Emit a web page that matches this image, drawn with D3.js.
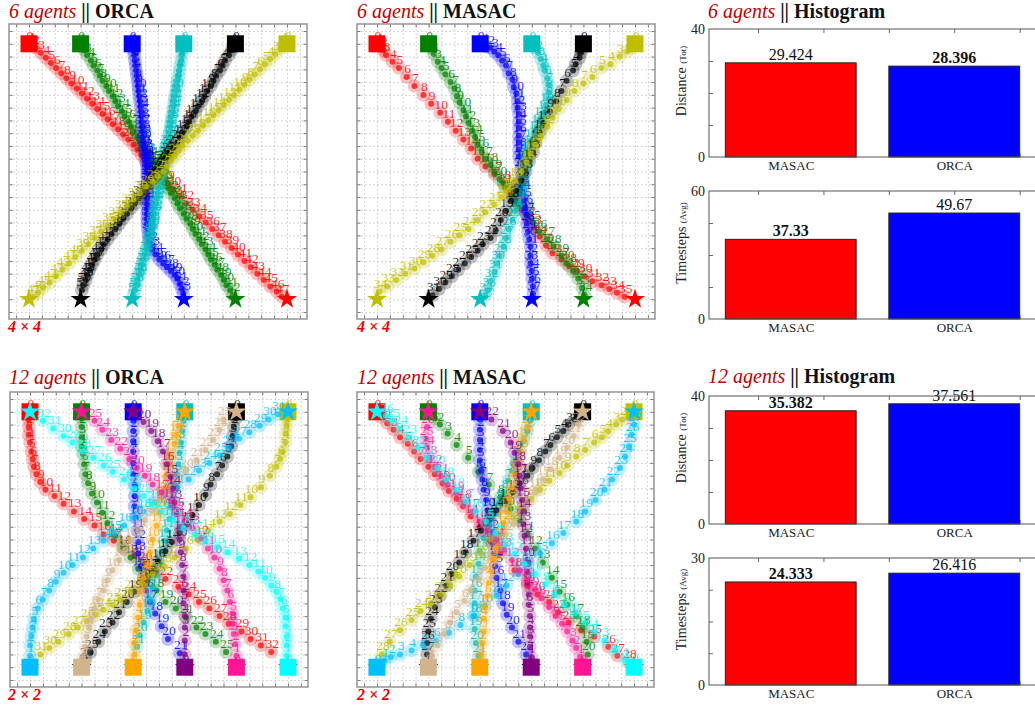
<!DOCTYPE html>
<html>
<head>
<meta charset="utf-8">
<script src="https://cdn.jsdelivr.net/npm/d3@7"></script>
<style>
  body { margin: 0; background: #fff; }
  svg { display: block; font-family: 'Liberation Serif', 'Times New Roman', serif; }
</style>
</head>
<body>
<svg id="fig" width="1035" height="706"></svg>
<script>
// ---------------- agent colours ----------------
const agentColors = ['#ff0000', '#008000', '#0000ff', '#00bfbf', '#000000', '#bfbf00',
                     '#00bfff', '#d2b48c', '#ffa500', '#800080', '#ff1493', '#00ffff'];

// ---------------- start / goal positions (world units) ----------------
const starts6 = [[-10, 10], [-6, 10], [-2, 10], [2, 10], [6, 10], [10, 10]];
const goals6  = [[10, -10], [6, -10], [2, -10], [-2, -10], [-6, -10], [-10, -10]];
const starts12 = [[-10, 10], [-6, 10], [-2, 10], [2, 10], [6, 10], [10, 10],
                  [-10, -10], [-6, -10], [-2, -10], [2, -10], [6, -10], [10, -10]];
const goals12  = [[10, -10], [6, -10], [2, -10], [-2, -10], [-6, -10], [-10, -10],
                  [10, 10], [6, 10], [2, 10], [-2, 10], [-6, 10], [-10, 10]];

// ---------------- 6 agents, ORCA trajectories (one [x,y] per timestep) ----------------
const orca6Paths = [
  [[-10,10],[-9.8,9.9],[-9.5,9.7],[-9.1,9.3],[-8.7,8.9],[-8.3,8.5],[-7.9,8.1],[-7.5,7.7],[-7.1,7.3],[-6.7,6.9],[-6.3,6.5],[-5.9,6.1],[-5.5,5.7],[-5.1,5.3],[-4.7,4.9],[-4.3,4.5],[-3.9,4.1],[-3.5,3.7],[-3.1,3.3],[-2.7,2.9],[-2.3,2.5],[-1.9,2.1],[-1.6,1.7],[-1.3,1.3],[-1.0,0.9],[-0.7,0.5],[-0.4,0.2],[-0.1,-0.1],[0.3,-0.5],[0.7,-0.9],[1.2,-1.4],[1.7,-1.9],[2.2,-2.5],[2.7,-3.0],[3.2,-3.5],[3.7,-4.0],[4.2,-4.5],[4.7,-5.0],[5.2,-5.5],[5.7,-6.0],[6.2,-6.5],[6.7,-7.0],[7.2,-7.5],[7.7,-8.0],[8.2,-8.5],[8.7,-9.0],[9.2,-9.4],[9.6,-9.8]],
  [[-6,10],[-5.9,9.8],[-5.7,9.5],[-5.5,9.1],[-5.2,8.7],[-5.0,8.3],[-4.7,7.9],[-4.5,7.5],[-4.3,7.1],[-4.0,6.7],[-3.8,6.3],[-3.5,5.9],[-3.3,5.5],[-3.1,5.1],[-2.8,4.7],[-2.6,4.3],[-2.3,3.9],[-2.1,3.5],[-1.9,3.1],[-1.6,2.7],[-1.4,2.3],[-1.1,1.9],[-1.0,1.6],[-0.8,1.3],[-0.6,1.0],[-0.4,0.7],[-0.2,0.4],[-0.1,0.1],[0.1,-0.2],[0.3,-0.5],[0.5,-0.9],[0.8,-1.3],[1.0,-1.7],[1.3,-2.1],[1.5,-2.5],[1.7,-2.9],[2.0,-3.3],[2.2,-3.7],[2.5,-4.1],[2.7,-4.5],[2.9,-4.9],[3.2,-5.3],[3.4,-5.7],[3.7,-6.1],[3.9,-6.5],[4.1,-6.9],[4.4,-7.3],[4.6,-7.7],[4.9,-8.1],[5.1,-8.5],[5.3,-8.9],[5.6,-9.3],[5.8,-9.7]],
  [[-2,10],[-1.95,9.8],[-1.9,9.5],[-1.85,9.1],[-1.8,8.7],[-1.75,8.3],[-1.7,7.9],[-1.65,7.5],[-1.6,7.1],[-1.55,6.7],[-1.5,6.3],[-1.45,5.9],[-1.4,5.5],[-1.35,5.1],[-1.3,4.7],[-1.3,4.3],[-1.25,3.9],[-1.2,3.5],[-1.2,3.1],[-1.15,2.7],[-1.1,2.3],[-1.05,1.9],[-1.0,1.6],[-0.95,1.3],[-0.9,1.0],[-0.9,0.7],[-0.85,0.4],[-0.85,0.1],[-0.85,-0.2],[-0.85,-0.5],[-0.85,-0.9],[-0.85,-1.3],[-0.85,-1.7],[-0.85,-2.1],[-0.85,-2.5],[-0.85,-2.9],[-0.85,-3.3],[-0.85,-3.7],[-0.85,-4.1],[-0.8,-4.5],[-0.75,-4.9],[-0.7,-5.3],[-0.6,-5.7],[-0.45,-6.1],[-0.2,-6.5],[0.1,-6.9],[0.4,-7.2],[0.7,-7.5],[1.0,-7.8],[1.3,-8.1],[1.5,-8.4],[1.7,-8.8],[1.85,-9.2],[1.95,-9.6]],
  [[2,10],[1.95,9.8],[1.9,9.5],[1.85,9.1],[1.8,8.7],[1.7,8.3],[1.65,7.9],[1.6,7.5],[1.5,7.1],[1.45,6.7],[1.4,6.3],[1.3,5.9],[1.25,5.5],[1.2,5.1],[1.15,4.7],[1.05,4.3],[1.0,3.9],[0.95,3.5],[0.9,3.1],[0.8,2.7],[0.75,2.3],[0.6,1.9],[0.55,1.6],[0.5,1.3],[0.45,1.0],[0.4,0.7],[0.35,0.4],[0.3,0.1],[0.25,-0.2],[0.2,-0.5],[0.1,-0.9],[0.05,-1.3],[0.0,-1.7],[-0.1,-2.1],[-0.15,-2.5],[-0.25,-2.9],[-0.3,-3.3],[-0.35,-3.7],[-0.45,-4.1],[-0.5,-4.5],[-0.6,-4.9],[-0.7,-5.3],[-0.8,-5.7],[-0.9,-6.1],[-1.0,-6.5],[-1.15,-6.9],[-1.25,-7.3],[-1.35,-7.7],[-1.45,-8.1],[-1.6,-8.5],[-1.7,-8.9],[-1.8,-9.3],[-1.9,-9.7]],
  [[6,10],[5.9,9.8],[5.7,9.5],[5.5,9.1],[5.2,8.7],[5.0,8.3],[4.8,7.9],[4.5,7.5],[4.3,7.1],[4.1,6.7],[3.8,6.3],[3.6,5.9],[3.4,5.5],[3.1,5.1],[2.9,4.7],[2.6,4.3],[2.4,3.9],[2.2,3.5],[1.9,3.1],[1.7,2.7],[1.5,2.3],[1.2,1.9],[1.0,1.6],[0.8,1.3],[0.6,1.0],[0.4,0.7],[0.3,0.4],[0.1,0.1],[-0.1,-0.2],[-0.3,-0.5],[-0.6,-0.9],[-0.9,-1.3],[-1.2,-1.7],[-1.5,-2.1],[-1.8,-2.5],[-2.1,-2.9],[-2.4,-3.3],[-2.7,-3.7],[-3.0,-4.1],[-3.3,-4.5],[-3.6,-4.9],[-3.9,-5.3],[-4.2,-5.7],[-4.4,-6.1],[-4.7,-6.5],[-4.9,-6.9],[-5.1,-7.3],[-5.3,-7.7],[-5.5,-8.1],[-5.6,-8.5],[-5.8,-8.9],[-5.9,-9.3]],
  [[10,10],[9.8,9.9],[9.5,9.6],[9.1,9.2],[8.7,8.8],[8.3,8.4],[7.9,8.0],[7.5,7.6],[7.1,7.2],[6.7,6.8],[6.3,6.4],[5.9,6.0],[5.5,5.6],[5.1,5.2],[4.7,4.8],[4.3,4.4],[3.9,4.0],[3.5,3.6],[3.1,3.2],[2.7,2.8],[2.3,2.4],[1.9,2.0],[1.6,1.6],[1.3,1.2],[1.0,0.8],[0.7,0.4],[0.4,0.0],[0.0,-0.4],[-0.4,-0.8],[-0.9,-1.2],[-1.4,-1.7],[-1.9,-2.2],[-2.4,-2.7],[-2.9,-3.2],[-3.4,-3.7],[-3.9,-4.2],[-4.4,-4.7],[-4.9,-5.2],[-5.4,-5.7],[-5.9,-6.2],[-6.4,-6.7],[-6.9,-7.2],[-7.4,-7.7],[-7.9,-8.2],[-8.4,-8.7],[-8.9,-9.1],[-9.3,-9.5],[-9.7,-9.8]]
];

// ---------------- 6 agents, MASAC trajectories ----------------
const masac6Paths = [
  [[-10,10],[-9.8,9.8],[-9.5,9.5],[-9.3,9.1],[-8.8,8.6],[-8.3,8.1],[-7.7,7.4],[-7.1,6.7],[-6.4,6.0],[-5.8,5.3],[-5.1,4.6],[-4.5,3.9],[-3.9,3.2],[-3.3,2.5],[-2.7,1.8],[-2.2,1.0],[-1.6,0.4],[-0.9,-0.2],[-0.2,-0.9],[0.3,-1.6],[0.8,-2.3],[1.2,-3.0],[1.7,-3.7],[2.2,-4.4],[2.6,-5.1],[3.1,-5.8],[3.6,-6.4],[4.3,-6.9],[4.9,-7.4],[5.5,-7.8],[6.1,-8.2],[6.7,-8.6],[7.4,-8.9],[8.0,-9.2],[8.6,-9.5],[9.2,-9.8]],
  [[-6,10],[-5.8,9.7],[-5.6,9.2],[-5.3,8.6],[-5.0,8.1],[-4.7,7.6],[-4.3,7.0],[-4.0,6.5],[-3.8,5.9],[-3.6,5.4],[-3.3,4.8],[-3.1,4.3],[-2.9,3.8],[-2.6,3.2],[-2.4,2.7],[-2.2,2.1],[-1.9,1.6],[-1.6,1.0],[-1.2,0.5],[-0.9,0.0],[-0.5,-0.6],[-0.1,-1.2],[0.5,-1.9],[1.0,-2.6],[1.6,-3.3],[2.1,-4.0],[2.6,-4.7],[3.2,-5.3],[3.7,-5.9],[4.3,-6.6],[4.7,-7.2],[5.2,-7.8],[5.6,-8.4],[5.9,-9.1],[6.1,-9.7]],
  [[-2,10],[-1.6,9.8],[-1.2,9.7],[-0.9,9.4],[-0.6,9.1],[-0.3,8.7],[0.0,8.3],[0.2,7.7],[0.5,7.2],[0.6,6.6],[0.8,6.1],[0.9,5.5],[0.9,5.0],[1.0,4.5],[1.0,3.9],[1.0,3.4],[1.0,2.8],[1.0,2.3],[1.0,1.7],[1.0,1.2],[1.1,0.7],[1.1,0.1],[1.2,-0.4],[1.2,-1.0],[1.3,-1.6],[1.4,-2.2],[1.5,-2.8],[1.6,-3.4],[1.6,-4.1],[1.7,-4.7],[1.8,-5.3],[1.9,-5.9],[1.9,-6.6],[1.9,-7.2],[2.0,-7.8],[2.0,-8.4],[2.1,-9.0],[2.1,-9.6]],
  [[2,10],[2.2,9.7],[2.5,9.3],[2.7,8.8],[2.9,8.3],[3.0,7.9],[3.2,7.3],[3.3,6.8],[3.3,6.2],[3.3,5.7],[3.1,5.2],[2.9,4.6],[2.6,4.1],[2.4,3.5],[2.2,3.0],[1.9,2.4],[1.8,1.9],[1.6,1.4],[1.6,0.8],[1.5,0.3],[1.4,-0.3],[1.3,-1.0],[1.2,-1.7],[0.9,-2.4],[0.7,-3.1],[0.5,-3.8],[0.2,-4.5],[0.0,-5.2],[-0.2,-5.9],[-0.5,-6.6],[-0.7,-7.2],[-0.9,-7.9],[-1.2,-8.6],[-1.4,-9.3],[-1.6,-9.7]],
  [[6,10],[6.0,9.7],[5.8,9.3],[5.7,8.9],[5.4,8.4],[5.2,7.9],[4.7,7.1],[4.3,6.3],[3.9,5.5],[3.4,4.7],[2.9,3.8],[2.6,3.1],[2.3,2.3],[2.1,1.5],[1.8,0.8],[1.5,0.0],[1.2,-0.7],[0.8,-1.5],[0.4,-2.3],[0.0,-3.1],[-0.4,-3.8],[-0.8,-4.6],[-1.2,-5.2],[-1.8,-5.7],[-2.2,-6.2],[-2.7,-6.7],[-3.2,-7.2],[-3.7,-7.7],[-4.2,-8.2],[-4.7,-8.7],[-5.2,-9.2],[-5.7,-9.7]],
  [[10,10],[9.8,9.7],[9.4,9.4],[8.8,9.0],[8.1,8.4],[7.4,8.1],[6.7,7.4],[6.0,6.9],[5.3,6.3],[4.7,5.6],[4.1,4.9],[3.6,4.2],[3.2,3.5],[2.7,2.8],[2.3,2.1],[1.9,1.4],[1.6,0.7],[1.2,0.0],[0.7,-0.7],[0.2,-1.4],[-0.3,-2.0],[-0.9,-2.6],[-1.6,-3.2],[-2.2,-3.8],[-2.9,-4.5],[-3.6,-5.0],[-4.3,-5.5],[-5.0,-6.1],[-5.7,-6.6],[-6.4,-7.1],[-7.1,-7.6],[-7.8,-8.0],[-8.5,-8.5],[-9.2,-9.0],[-9.8,-9.4]]
];

// ---------------- 12 agents, ORCA trajectories ----------------
const orca12Paths = [
  [[-10,10],[-10.1,9.4],[-10.1,8.8],[-10.1,8.2],[-10.0,7.6],[-9.9,6.9],[-9.8,6.3],[-9.7,5.7],[-9.5,5.1],[-9.2,4.5],[-8.8,3.9],[-8.1,3.4],[-7.4,2.8],[-6.6,2.2],[-5.8,1.6],[-5.0,1.1],[-4.3,0.4],[-3.5,-0.1],[-2.7,-0.7],[-1.9,-1.3],[-1.1,-1.9],[-0.2,-2.5],[0.5,-3.1],[1.5,-3.7],[2.3,-4.3],[3.1,-4.9],[3.9,-5.4],[4.7,-6.0],[5.4,-6.6],[6.4,-7.2],[7.1,-7.8],[7.9,-8.3],[8.7,-8.8]],
  [[-6,10],[-6.0,9.5],[-6.0,8.8],[-6.0,8.0],[-6.0,7.3],[-5.9,6.7],[-5.8,5.9],[-5.7,5.1],[-5.5,4.4],[-5.2,3.6],[-4.8,2.9],[-4.4,2.1],[-4.0,1.3],[-3.4,0.3],[-2.8,-0.6],[-2.2,-1.4],[-1.6,-2.3],[-0.9,-3.2],[-0.2,-4.0],[0.5,-4.9],[1.3,-5.4],[2.1,-6.1],[2.9,-6.9],[3.6,-7.4],[4.4,-8.0],[5.2,-8.8]],
  [[-2,10],[-2,9.3],[-2,8.5],[-2,7.7],[-2,6.9],[-2,6.0],[-2,5.1],[-1.9,4.3],[-1.9,3.4],[-1.9,2.6],[-1.8,1.7],[-1.7,0.7],[-1.6,-0.2],[-1.6,-1.1],[-1.4,-2.1],[-1.2,-3.0],[-1.0,-4.0],[-0.7,-4.9],[-0.3,-5.8],[0.2,-6.8],[0.7,-7.8],[1.6,-8.9]],
  [[2,10],[1.9,9.3],[1.8,8.5],[1.7,7.6],[1.6,6.8],[1.5,5.9],[1.4,5.1],[1.2,4.2],[1.1,3.3],[0.9,2.5],[0.8,1.6],[0.6,0.7],[0.4,-0.1],[0.2,-1.0],[0.0,-1.8],[-0.2,-2.8],[-0.5,-3.7],[-0.7,-4.7],[-0.9,-5.6],[-1.2,-6.5],[-1.5,-7.5],[-1.7,-8.4]],
  [[6,10],[6,9.5],[5.8,8.8],[5.7,8.1],[5.6,7.3],[5.3,6.5],[4.9,5.8],[4.5,5.1],[4.0,4.3],[3.6,3.5],[3.1,2.7],[2.6,1.9],[2.2,1.2],[1.6,0.5],[1.0,-0.2],[0.5,-0.9],[-0.1,-1.7],[-0.6,-2.5],[-1.2,-3.3],[-1.9,-4.1],[-2.5,-4.9],[-3.1,-5.7],[-3.6,-6.5],[-4.2,-7.2],[-4.7,-8.0],[-5.3,-8.8],[-5.7,-9.4]],
  [[10,10],[9.9,9.5],[9.9,8.9],[9.8,8.3],[9.8,7.6],[9.6,6.9],[9.4,6.3],[9.1,5.7],[8.6,5.0],[7.9,4.1],[7.1,3.3],[6.3,2.7],[5.5,2.0],[4.7,1.4],[3.8,0.7],[3.0,0.0],[2.1,-0.7],[1.2,-1.4],[0.4,-2.1],[-0.5,-2.7],[-1.3,-3.4],[-2.2,-4.1],[-3.0,-4.7],[-3.6,-5.1],[-4.3,-5.5],[-4.9,-5.9],[-5.6,-6.4],[-6.3,-6.9],[-7.0,-7.4],[-7.8,-8.0],[-8.5,-8.5],[-9.2,-9.0]],
  [[-10,-10],[-10,-9.1],[-10,-8.3],[-9.9,-7.6],[-9.8,-6.9],[-9.7,-6.2],[-9.4,-5.4],[-9.0,-4.7],[-8.5,-4.0],[-8.0,-3.3],[-7.4,-2.6],[-6.7,-2.0],[-5.9,-1.4],[-5.1,-0.7],[-4.3,-0.1],[-3.5,0.5],[-2.7,1.1],[-1.9,1.7],[-1.2,2.2],[-0.3,2.9],[0.5,3.5],[1.4,4.1],[2.3,4.7],[3.1,5.4],[3.9,6.0],[4.7,6.6],[5.4,7.2],[6.2,7.9],[7.0,8.4],[7.8,8.9],[8.5,9.4],[9.2,9.8]],
  [[-6,-10],[-5.9,-9.2],[-5.7,-8.4],[-5.6,-7.6],[-5.4,-6.9],[-5.3,-6.2],[-5.0,-5.4],[-4.7,-4.7],[-4.3,-4.0],[-4.0,-3.2],[-3.6,-2.4],[-3.1,-1.6],[-2.6,-0.8],[-2.2,0.0],[-1.6,0.7],[-1.1,1.5],[-0.5,2.3],[0.1,3.1],[0.7,3.9],[1.4,4.7],[2.1,5.4],[2.9,6.2],[3.6,7.0],[4.2,7.8],[4.7,8.6],[5.0,9.4]],
  [[-2,-10],[-1.9,-9.0],[-1.9,-8.1],[-1.8,-7.1],[-1.6,-6.1],[-1.5,-5.1],[-1.3,-4.0],[-1.2,-3.0],[-0.9,-2.0],[-0.7,-1.0],[-0.5,0.0],[-0.2,1.1],[0.0,2.1],[0.2,3.1],[0.5,4.1],[0.6,5.1],[0.8,5.9],[0.9,6.7],[1.2,7.5],[1.3,8.2],[1.5,8.9]],
  [[2,-10],[2,-9.0],[2,-7.9],[2,-6.9],[2,-6.0],[1.9,-5.0],[1.9,-4.0],[1.9,-2.9],[1.8,-2.0],[1.7,-1.0],[1.6,0.0],[1.6,1.0],[1.4,2.0],[1.2,2.9],[1.1,4.0],[0.9,4.9],[0.6,5.9],[0.3,6.9],[-0.1,7.7],[-0.6,8.5],[-1.2,9.2]],
  [[6,-10],[6,-9.1],[5.9,-8.2],[5.8,-7.4],[5.7,-6.6],[5.7,-5.8],[5.5,-4.9],[5.3,-4.0],[5.0,-3.2],[4.7,-2.3],[4.3,-1.4],[3.8,-0.7],[3.3,0.1],[2.6,0.9],[2.0,1.5],[1.4,2.3],[0.8,3.0],[0.2,3.7],[-0.5,4.3],[-1.1,5.0],[-1.7,5.6],[-2.3,6.3],[-3.0,7.1],[-3.7,7.8],[-4.4,8.6],[-5.0,9.3]],
  [[10,-10],[9.9,-9.1],[9.9,-8.3],[9.9,-7.6],[9.8,-6.8],[9.8,-6.1],[9.6,-5.4],[9.4,-4.7],[9.1,-4.1],[8.7,-3.6],[8.2,-3.0],[7.7,-2.5],[7.0,-2.0],[6.2,-1.5],[5.3,-1.0],[4.5,-0.6],[3.6,-0.1],[2.8,0.4],[1.9,0.9],[1.1,1.5],[0.2,2.2],[-0.5,2.8],[-1.2,3.4],[-1.9,4.0],[-2.7,4.7],[-3.6,5.3],[-4.3,5.8],[-5.1,6.4],[-5.9,6.9],[-6.7,7.6],[-7.4,8.1],[-8.2,8.7],[-9.0,9.3]]
];

// ---------------- 12 agents, MASAC trajectories ----------------
const masac12Paths = [
  [[-10,10],[-9.7,9.6],[-9.2,9.1],[-8.7,8.6],[-8.2,8.0],[-7.6,7.5],[-7.1,6.9],[-6.6,6.3],[-6.0,5.7],[-5.5,5.1],[-4.9,4.4],[-4.4,3.8],[-3.8,3.2],[-3.3,2.6],[-2.7,1.8],[-2.0,1.0],[-1.2,-0.1],[-0.4,-1.1],[0.7,-2.4],[1.7,-3.6],[2.5,-4.3],[3.4,-4.9],[4.1,-5.7],[4.9,-6.5],[5.9,-7.1],[6.9,-7.6],[8.0,-8.4],[8.7,-9.1],[9.6,-9.6]],
  [[-6,10],[-5.5,9.5],[-5.1,9.0],[-4.5,8.3],[-3.8,7.4],[-2.9,6.4],[-2.1,5.3],[-1.3,4.3],[-0.4,3.3],[0.4,2.4],[1.1,1.5],[1.7,0.4],[2.3,-0.7],[2.9,-1.8],[3.6,-3.0],[4.2,-4.1],[4.8,-5.1],[5.5,-6.0],[6.0,-6.9],[6.3,-8.0],[6.4,-9.0]],
  [[-2,10],[-2,9.4],[-2,8.6],[-2,7.8],[-2,7.0],[-2,6.2],[-1.9,5.4],[-1.8,4.7],[-1.7,3.9],[-1.5,3.1],[-1.4,2.3],[-1.2,1.5],[-1.1,0.6],[-1.0,-0.3],[-0.9,-1.1],[-0.8,-2.1],[-0.7,-3.0],[-0.4,-4.0],[-0.2,-5.0],[0.1,-5.9],[0.5,-6.9],[1.0,-8.0],[1.6,-9.0]],
  [[2,10],[1.9,9.3],[1.7,8.5],[1.4,7.7],[1.1,6.9],[0.8,6.2],[0.5,5.4],[0.2,4.6],[-0.1,3.7],[-0.5,2.9],[-0.9,2.0],[-1.3,1.1],[-1.7,0.1],[-2.0,-0.9],[-2.1,-1.9],[-2.3,-2.9],[-2.4,-4.0],[-2.4,-5.0],[-2.4,-6.0],[-2.4,-7.0],[-2.3,-8.1],[-2.1,-9.1]],
  [[6,10],[5.8,9.7],[5.4,9.4],[4.9,9.0],[4.5,8.5],[4.0,8.0],[3.5,7.4],[3.1,6.9],[2.6,6.2],[2.1,5.6],[1.7,5.0],[1.1,4.4],[0.6,3.7],[0.0,3.0],[-0.7,2.3],[-1.3,1.5],[-1.9,0.7],[-2.5,-0.1],[-3.1,-1.0],[-3.6,-1.8],[-4.2,-2.7],[-4.6,-3.6],[-5.1,-4.4],[-5.5,-5.3],[-5.8,-6.2],[-6.0,-7.2],[-6.1,-8.1],[-6.1,-9.0]],
  [[10,10],[9.7,9.7],[9.1,9.4],[8.6,9.0],[8.0,8.5],[7.5,8.0],[6.9,7.6],[6.2,7.0],[5.5,6.5],[4.8,5.8],[4.2,5.2],[3.4,4.6],[2.7,3.9],[2.0,3.2],[1.3,2.5],[0.6,1.7],[-0.2,0.9],[-1.1,0.0],[-1.9,-1.1],[-2.8,-2.0],[-3.6,-2.9],[-4.3,-3.6],[-5.0,-4.3],[-5.8,-5.0],[-6.6,-5.6],[-7.3,-6.3],[-8.2,-7.1],[-9.0,-8.0],[-9.6,-9.0]],
  [[-10,-10],[-9.4,-9.5],[-8.9,-9.2],[-8.2,-9.0],[-7.3,-8.7],[-6.4,-8.3],[-5.4,-7.9],[-4.4,-7.3],[-3.5,-6.7],[-2.5,-6.0],[-1.6,-5.2],[-0.7,-4.4],[0.1,-3.6],[1.0,-2.7],[1.8,-1.8],[2.7,-1.1],[3.6,-0.3],[4.5,0.5],[5.5,1.4],[6.2,2.2],[7.0,3.1],[7.7,3.9],[8.3,4.7],[8.9,5.6],[9.3,6.5],[9.6,7.3],[9.8,8.2],[10.0,9.0]],
  [[-6,-10],[-5.7,-9.1],[-5.3,-8.3],[-4.8,-7.4],[-4.3,-6.5],[-3.8,-5.7],[-3.2,-4.8],[-2.7,-4.0],[-2.1,-3.1],[-1.6,-2.2],[-1.1,-1.4],[-0.5,-0.5],[0.0,0.4],[0.6,1.2],[1.1,2.1],[1.7,2.9],[2.3,3.8],[2.9,4.7],[3.5,5.5],[4.2,6.4],[4.8,7.2],[5.3,8.1],[5.7,9.0]],
  [[-2,-10],[-1.9,-9.0],[-1.8,-8.1],[-1.7,-7.2],[-1.7,-6.2],[-1.6,-5.3],[-1.4,-4.4],[-1.3,-3.4],[-1.1,-2.5],[-0.9,-1.5],[-0.7,-0.6],[-0.4,0.4],[-0.2,1.3],[0.0,2.2],[0.3,3.2],[0.5,4.1],[0.7,5.1],[1.0,6.0],[1.2,6.9],[1.4,7.9],[1.7,8.8]],
  [[2,-10],[2,-9.2],[1.9,-8.4],[1.9,-7.6],[1.9,-6.9],[1.9,-6.0],[1.8,-5.1],[1.8,-4.3],[1.7,-3.4],[1.7,-2.5],[1.7,-1.6],[1.6,-0.7],[1.5,0.3],[1.4,1.2],[1.4,2.2],[1.3,3.1],[1.2,4.0],[1.1,5.0],[1.0,5.9],[0.7,6.8],[0.4,7.6],[-0.2,8.5],[-1.1,9.4]],
  [[6,-10],[5.8,-9.2],[5.5,-8.5],[5.2,-7.9],[4.8,-7.2],[4.4,-6.6],[3.9,-6.0],[3.4,-5.3],[2.8,-4.6],[2.3,-3.9],[1.7,-3.2],[1.1,-2.4],[0.5,-1.6],[-0.1,-0.8],[-0.7,0.0],[-1.4,0.7],[-2.0,1.4],[-2.6,2.2],[-3.2,2.9],[-3.8,3.6],[-4.5,4.3],[-5.0,5.0],[-5.5,5.7],[-5.9,6.4],[-6.1,7.2],[-6.2,7.9],[-6.1,8.8]],
  [[10,-10],[9.3,-9.4],[8.5,-8.7],[7.7,-7.9],[6.9,-7.2],[6.2,-6.5],[5.4,-5.8],[4.6,-5.1],[3.8,-4.3],[3.1,-3.5],[2.3,-2.7],[1.5,-1.9],[0.7,-1.1],[0.0,-0.4],[-0.8,0.5],[-1.5,1.4],[-2.3,2.2],[-3.1,3.0],[-3.8,3.9],[-4.6,4.7],[-5.3,5.6],[-6.1,6.4],[-6.8,7.2],[-7.5,8.0],[-8.2,8.7],[-8.8,9.3],[-9.3,9.7]]
];

// ---------------- histogram values ----------------
const methods = ['MASAC', 'ORCA'];
const methodColors = ['#ff0000', '#0000ff'];
const distance6 = [29.424, 28.396];
const timesteps6 = [37.33, 49.67];
const distance12 = [35.382, 37.561];
const timesteps12 = [24.333, 26.416];

// ---------------- drawing ----------------
const svg = d3.select('#fig');
const HALF = 11.55;                 // visible half-width of the arena
const gridValues = d3.range(-11, 12);

function drawTitle(x, y, count, name) {
  const t = svg.append('text').attr('x', x).attr('y', y).attr('font-size', 20);
  t.append('tspan').attr('font-style', 'italic').attr('fill', '#c00000').text(count + ' ');
  t.append('tspan').attr('font-weight', 'bold').attr('fill', '#111').text('|| ' + name);
}

function drawArena(box, paths, starts, goals) {
  const x = d3.scaleLinear().domain([-HALF, HALF]).range([box.x0, box.x1]);
  const y = d3.scaleLinear().domain([-HALF, HALF]).range([box.y1, box.y0]);
  const w = box.x1 - box.x0, h = box.y1 - box.y0;
  const g = svg.append('g');

  // dashed grid
  const gx = g.append('g').attr('transform', `translate(0,${box.y1})`)
    .call(d3.axisBottom(x).tickValues(gridValues).tickSize(-h).tickFormat(''));
  const gy = g.append('g').attr('transform', `translate(${box.x0},0)`)
    .call(d3.axisLeft(y).tickValues(gridValues).tickSize(-w).tickFormat(''));
  [gx, gy].forEach(a => {
    a.select('.domain').remove();
    a.selectAll('line').attr('stroke', '#c9c9c9').attr('stroke-width', 0.8).attr('stroke-dasharray', '2,2');
  });

  // inward tick marks on all four sides
  const tickSides = [
    [d3.axisBottom(x), `translate(0,${box.y1})`],
    [d3.axisTop(x), `translate(0,${box.y0})`],
    [d3.axisLeft(y), `translate(${box.x0},0)`],
    [d3.axisRight(y), `translate(${box.x1},0)`]
  ];
  tickSides.forEach(([ax, tr]) => {
    const a = g.append('g').attr('transform', tr)
      .call(ax.tickValues(gridValues).tickSizeInner(-3.5).tickSizeOuter(0).tickFormat(''));
    a.select('.domain').remove();
    a.selectAll('line').attr('stroke', '#777').attr('stroke-width', 1);
  });

  const square = d3.symbol(d3.symbolSquare, 289)();
  const star = d3.symbol(d3.symbolStar, 125)();

  paths.forEach((pts, i) => {
    const c = agentColors[i];
    const ag = g.append('g');
    ag.selectAll('circle.halo').data(pts).join('circle').attr('class', 'halo')
      .attr('cx', d => x(d[0])).attr('cy', d => y(d[1])).attr('r', 6.8)
      .attr('fill', c).attr('fill-opacity', 0.24);
    ag.selectAll('circle.core').data(pts).join('circle').attr('class', 'core')
      .attr('cx', d => x(d[0])).attr('cy', d => y(d[1])).attr('r', 3)
      .attr('fill', c).attr('fill-opacity', 0.72);
    ag.append('path').attr('d', square)
      .attr('transform', `translate(${x(starts[i][0])},${y(starts[i][1])})`).attr('fill', c);
    ag.append('path').attr('d', star)
      .attr('transform', `translate(${x(goals[i][0])},${y(goals[i][1])})`).attr('fill', c);
    ag.selectAll('text.step').data(pts).join('text').attr('class', 'step')
      .attr('x', d => x(d[0]) + 1).attr('y', d => y(d[1]) - 4)
      .attr('text-anchor', 'middle').attr('font-size', 13.5)
      .attr('fill', c).attr('fill-opacity', 0.85)
      .text((d, k) => k);
  });

  g.append('rect').attr('x', box.x0).attr('y', box.y0).attr('width', w).attr('height', h)
    .attr('fill', 'none').attr('stroke', '#9a9a9a').attr('stroke-width', 1.6);
}

function drawCorner(x, y, label) {
  svg.append('text').attr('x', x).attr('y', y).attr('font-size', 16)
    .attr('font-weight', 'bold').attr('font-style', 'italic').attr('fill', '#ee0000').text(label);
}

function drawHistogram(box, values, maxValue, label, sub) {
  const x = d3.scaleLinear().domain([-0.5, 1.5]).range([709, 1036]);
  const y = d3.scaleLinear().domain([0, maxValue]).range([box.y1, box.y0]);
  const g = svg.append('g');
  const best = d3.min(values);

  // minor ticks (inward) on the frame
  const yMinor = [1, 2, 3].map(k => maxValue * k / 4);
  const xMinor = [-0.2, 0.2, 0.6, 1.0, 1.4];
  [[d3.axisLeft(y).tickValues(yMinor), `translate(709,0)`],
   [d3.axisBottom(x).tickValues(xMinor), `translate(0,${box.y1})`],
   [d3.axisTop(x).tickValues(xMinor), `translate(0,${box.y0})`]].forEach(([ax, tr]) => {
    const a = g.append('g').attr('transform', tr)
      .call(ax.tickSizeInner(-4).tickSizeOuter(0).tickFormat(''));
    a.select('.domain').remove();
    a.selectAll('line').attr('stroke', '#666');
  });

  g.selectAll('rect.bar').data(values).join('rect').attr('class', 'bar')
    .attr('x', (d, i) => x(i - 0.4)).attr('width', x(0.4) - x(-0.4))
    .attr('y', d => y(d)).attr('height', d => y(0) - y(d))
    .attr('fill', (d, i) => methodColors[i]).attr('stroke', '#222').attr('stroke-width', 1);

  g.selectAll('text.val').data(values).join('text').attr('class', 'val')
    .attr('x', (d, i) => x(i)).attr('y', d => y(d) - 3)
    .attr('text-anchor', 'middle').attr('font-size', 16).attr('fill', '#111')
    .attr('font-weight', d => d === best ? 'bold' : 'normal')
    .text(d => String(d));

  // frame
  g.append('rect').attr('x', 709).attr('y', box.y0).attr('width', 1036 - 709).attr('height', box.y1 - box.y0)
    .attr('fill', 'none').attr('stroke', '#555').attr('stroke-width', 1);

  // y labels (0 and max) and x category labels
  const ya = g.append('g').attr('transform', 'translate(709,0)')
    .call(d3.axisLeft(y).tickValues([0, maxValue]).tickSize(0).tickPadding(4));
  ya.select('.domain').remove();
  ya.selectAll('text').attr('font-size', 14).attr('fill', '#222')
    .attr('font-family', "'Liberation Serif', serif");
  const xa = g.append('g').attr('transform', `translate(0,${box.y1})`)
    .call(d3.axisBottom(x).tickValues([0, 1]).tickSize(0).tickPadding(4).tickFormat(i => methods[i]));
  xa.select('.domain').remove();
  xa.selectAll('text').attr('font-size', 13).attr('fill', '#222')
    .attr('font-family', "'Liberation Serif', serif");

  const cy = (box.y0 + box.y1) / 2 - 12;
  const t = g.append('text').attr('transform', `translate(686,${cy}) rotate(-90)`)
    .attr('text-anchor', 'middle').attr('font-size', 14).attr('fill', '#222');
  t.append('tspan').text(label + ' ');
  t.append('tspan').attr('font-size', 9).text(sub);
}

// titles
drawTitle(9, 18, '6 agents', 'ORCA');
drawTitle(357, 18, '6 agents', 'MASAC');
drawTitle(708, 18, '6 agents', 'Histogram');
drawTitle(9, 384, '12 agents', 'ORCA');
drawTitle(357, 384, '12 agents', 'MASAC');
drawTitle(708, 383, '12 agents', 'Histogram');

// arenas
drawArena({x0: 9, x1: 307, y0: 24, y1: 319}, orca6Paths, starts6, goals6);
drawArena({x0: 357, x1: 655, y0: 24, y1: 319}, masac6Paths, starts6, goals6);
drawArena({x0: 10, x1: 308, y0: 392, y1: 687}, orca12Paths, starts12, goals12);
drawArena({x0: 357, x1: 654, y0: 392, y1: 687}, masac12Paths, starts12, goals12);

drawCorner(8, 332, '4 × 4');
drawCorner(357, 332, '4 × 4');
drawCorner(8, 700, '2 × 2');
drawCorner(357, 700, '2 × 2');

// histograms
drawHistogram({y0: 29, y1: 157}, distance6, 40, 'Distance', '(Tot)');
drawHistogram({y0: 191, y1: 319}, timesteps6, 60, 'Timesteps', '(Avg)');
drawHistogram({y0: 396, y1: 524}, distance12, 40, 'Distance', '(Tot)');
drawHistogram({y0: 558, y1: 685}, timesteps12, 30, 'Timesteps', '(Avg)');
</script>
</body>
</html>
